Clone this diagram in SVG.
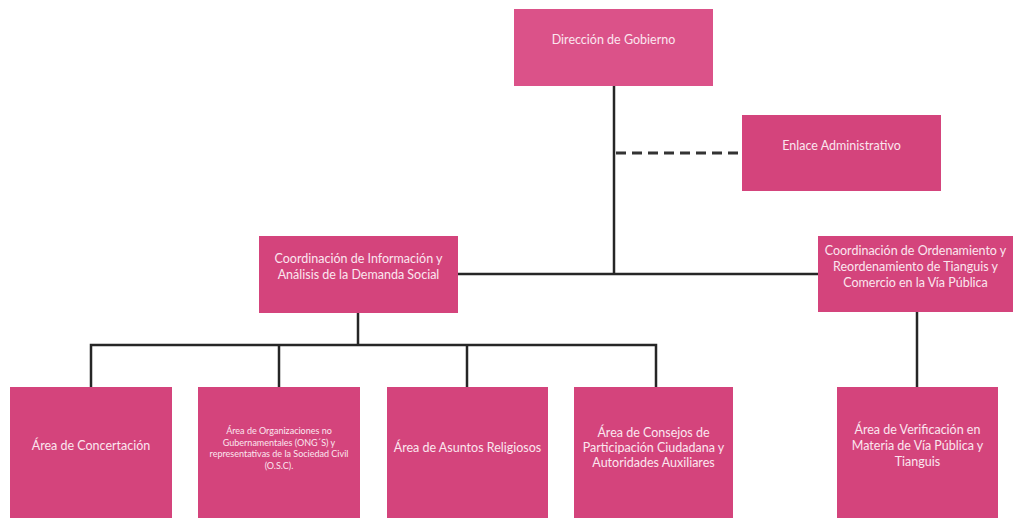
<svg xmlns="http://www.w3.org/2000/svg" width="1016" height="518" viewBox="0 0 1016 518">
  <style>
    .box { fill: #d4447c; }
    .top { fill: #db5289; }
    .lbl { font-family: Lato, "Open Sans", sans-serif; font-size: 12.5px; fill: #fbe6ef; text-anchor: middle; }
    .small { font-size: 9px; }
    .line { stroke: #262626; stroke-width: 2.5; fill: none; }
    .dash { stroke: #333; stroke-width: 3; stroke-dasharray: 10 6; fill: none; }
  </style>
  <rect width="1016" height="518" fill="#ffffff"/>

  <!-- connectors -->
  <g id="connectors">
    <path class="line" d="M614 86 V274"/>
    <path class="dash" d="M616 153 H742"/>
    <path class="line" d="M458 274 H818"/>
    <path class="line" d="M358 313 V345"/>
    <path class="line" d="M91 387 V345 H656 V387"/>
    <path class="line" d="M279 345 V387"/>
    <path class="line" d="M467 345 V387"/>
    <path class="line" d="M917 312 V387"/>
  </g>

  <g id="direccion">
    <rect class="top" x="514" y="9" width="199" height="77"/>
    <text class="lbl" x="613.5" y="44">Dirección de Gobierno</text>
  </g>

  <g id="enlace">
    <rect class="box" x="742" y="115" width="199" height="76"/>
    <text class="lbl" x="841.5" y="150">Enlace Administrativo</text>
  </g>

  <g id="coord-informacion">
    <rect class="box" x="259" y="236" width="199" height="77"/>
    <text class="lbl" x="358.5" y="263">Coordinación de Información y</text>
    <text class="lbl" x="358.5" y="279">Análisis de la Demanda Social</text>
  </g>

  <g id="coord-ordenamiento">
    <rect class="box" x="818" y="236" width="195" height="76"/>
    <text class="lbl" x="915.5" y="255">Coordinación de Ordenamiento y</text>
    <text class="lbl" x="915.5" y="271">Reordenamiento de Tianguis y</text>
    <text class="lbl" x="915.5" y="287">Comercio en la Vía Pública</text>
  </g>

  <g id="area-concertacion">
    <rect class="box" x="10" y="387" width="162" height="131"/>
    <text class="lbl" x="91" y="450">Área de Concertación</text>
  </g>

  <g id="area-ong">
    <rect class="box" x="198" y="387" width="162" height="131"/>
    <text class="lbl small" x="279" y="434">Área de Organizaciones no</text>
    <text class="lbl small" x="279" y="445.5">Gubernamentales (ONG´S) y</text>
    <text class="lbl small" x="279" y="457">representativas de la Sociedad Civil</text>
    <text class="lbl small" x="279" y="468.5">(O.S.C).</text>
  </g>

  <g id="area-religiosos">
    <rect class="box" x="387" y="387" width="161" height="131"/>
    <text class="lbl" x="467.5" y="452">Área de Asuntos Religiosos</text>
  </g>

  <g id="area-consejos">
    <rect class="box" x="574" y="387" width="159" height="131"/>
    <text class="lbl" x="653.5" y="437">Área de Consejos de</text>
    <text class="lbl" x="653.5" y="452">Participación Ciudadana y</text>
    <text class="lbl" x="653.5" y="467">Autoridades Auxiliares</text>
  </g>

  <g id="area-verificacion">
    <rect class="box" x="837" y="387" width="161" height="131"/>
    <text class="lbl" x="917.5" y="434">Área de Verificación en</text>
    <text class="lbl" x="917.5" y="450">Materia de Vía Pública y</text>
    <text class="lbl" x="917.5" y="466">Tianguis</text>
  </g>
</svg>
